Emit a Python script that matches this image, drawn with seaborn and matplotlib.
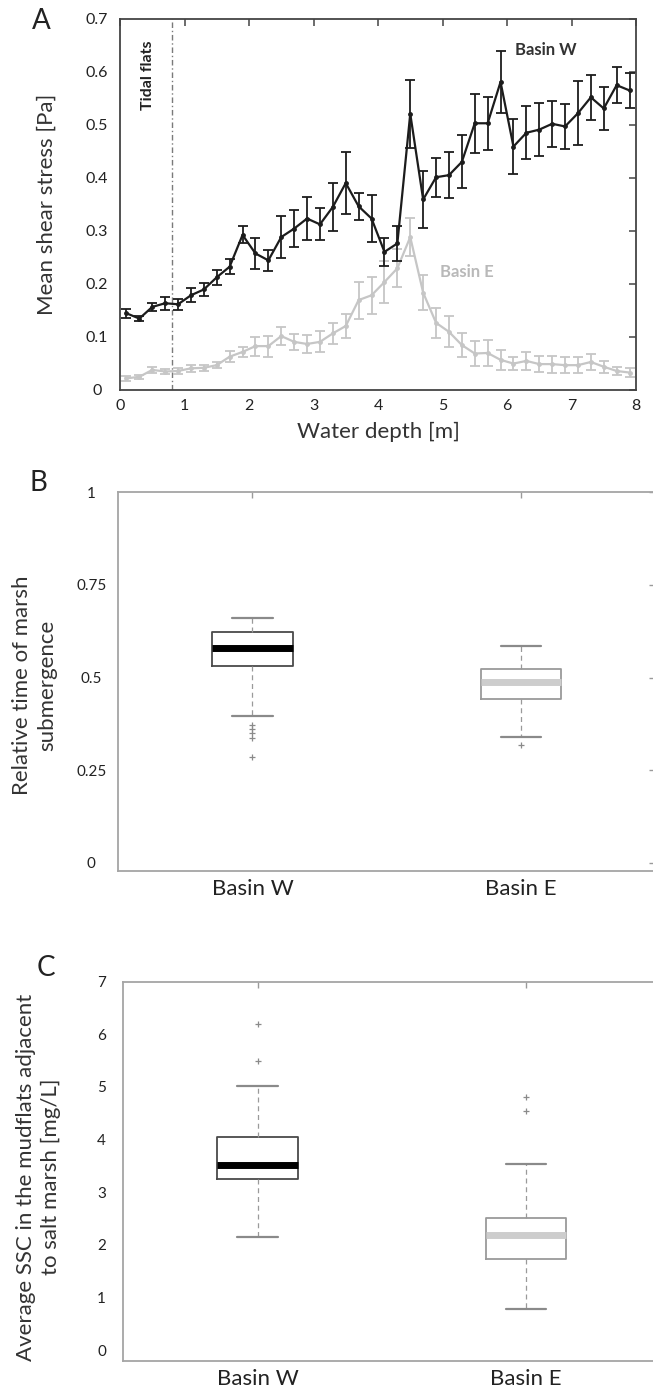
import matplotlib
matplotlib.use("Agg")
import matplotlib.pyplot as plt
import pandas as pd
import seaborn as sns

# ---- Panel A: mean bed shear stress vs water depth ----
depth = [0.1, 0.3, 0.5, 0.7, 0.9, 1.1, 1.3, 1.5, 1.7, 1.9,
         2.1, 2.3, 2.5, 2.7, 2.9, 3.1, 3.3, 3.5, 3.7, 3.9,
         4.1, 4.3, 4.5, 4.7, 4.9, 5.1, 5.3, 5.5, 5.7, 5.9,
         6.1, 6.3, 6.5, 6.7, 6.9, 7.1, 7.3, 7.5, 7.7, 7.9]
stress_w = [0.144, 0.134, 0.156, 0.163, 0.161, 0.178, 0.189, 0.212, 0.232, 0.292,
            0.257, 0.244, 0.288, 0.304, 0.323, 0.312, 0.345, 0.390, 0.346, 0.323,
            0.260, 0.276, 0.521, 0.359, 0.401, 0.405, 0.430, 0.503, 0.503, 0.581,
            0.459, 0.485, 0.491, 0.502, 0.497, 0.522, 0.552, 0.531, 0.575, 0.565]
stress_w_err = [0.008, 0.005, 0.008, 0.012, 0.010, 0.013, 0.013, 0.014, 0.014, 0.016,
                0.030, 0.020, 0.040, 0.035, 0.040, 0.030, 0.045, 0.058, 0.025, 0.045,
                0.027, 0.033, 0.064, 0.054, 0.037, 0.044, 0.050, 0.056, 0.050, 0.058,
                0.052, 0.050, 0.050, 0.044, 0.042, 0.060, 0.042, 0.040, 0.034, 0.033]
stress_e = [0.021, 0.024, 0.037, 0.034, 0.035, 0.040, 0.041, 0.046, 0.062, 0.071,
            0.082, 0.082, 0.101, 0.090, 0.086, 0.090, 0.106, 0.120, 0.169, 0.178,
            0.203, 0.229, 0.288, 0.183, 0.126, 0.109, 0.084, 0.068, 0.069, 0.056,
            0.049, 0.054, 0.048, 0.048, 0.046, 0.046, 0.052, 0.043, 0.035, 0.032]
stress_e_err = [0.005, 0.004, 0.005, 0.005, 0.005, 0.006, 0.006, 0.006, 0.010, 0.010,
                0.018, 0.020, 0.017, 0.015, 0.017, 0.020, 0.020, 0.022, 0.035, 0.035,
                0.040, 0.036, 0.036, 0.033, 0.028, 0.029, 0.022, 0.023, 0.024, 0.019,
                0.013, 0.017, 0.015, 0.016, 0.015, 0.015, 0.015, 0.011, 0.008, 0.008]
tidal_flats_limit = 0.81
depth_ticks = [0, 1, 2, 3, 4, 5, 6, 7, 8]
stress_ticks = [0, 0.1, 0.2, 0.3, 0.4, 0.5, 0.6, 0.7]
stress_tick_labels = ["0", "0.1", "0.2", "0.3", "0.4", "0.5", "0.6", "0.7"]

# ---- Panel B/C: box plot summaries per basin ----
basins = ["Basin W", "Basin E"]
sub_whislo = [0.396, 0.340]
sub_q1 = [0.530, 0.442]
sub_med = [0.581, 0.487]
sub_q3 = [0.622, 0.522]
sub_whishi = [0.660, 0.586]
sub_fliers = [[0.372, 0.360, 0.350, 0.336, 0.286], [0.318]]
sub_ticks = [0, 0.25, 0.5, 0.75, 1]
sub_tick_labels = ["0", "0.25", "0.5", "0.75", "1"]

ssc_whislo = [2.14, 0.79]
ssc_q1 = [3.25, 1.74]
ssc_med = [3.52, 2.19]
ssc_q3 = [4.05, 2.51]
ssc_whishi = [5.01, 3.54]
ssc_fliers = [[6.20, 5.50], [4.80, 4.55]]
ssc_ticks = [0, 1, 2, 3, 4, 5, 6, 7]

DARK = "#1c1c1c"
LIGHT = "#c6c6c6"
TEXT = "#222222"
LABEL = "#333333"

sns.set_style("white")
plt.rcParams["font.family"] = ["Lato", "DejaVu Sans"]

W, H = 653, 1395
fig = plt.figure(figsize=(W / 100, H / 100), dpi=100)


def px_axes(left, top, right, bottom):
    return fig.add_axes([left / W, 1 - bottom / H, (right - left) / W, (bottom - top) / H])


def center_ylabels(ax):
    for lab in ax.get_yticklabels():
        lab.set_horizontalalignment("center")


# ================= Panel A =================
axA = px_axes(120, 19, 636, 389.5)
df = pd.DataFrame({
    "depth": depth * 2,
    "stress": stress_w + stress_e,
    "basin": ["Basin W"] * len(depth) + ["Basin E"] * len(depth),
})
sns.lineplot(data=df, x="depth", y="stress", hue="basin",
             palette={"Basin W": DARK, "Basin E": LIGHT},
             hue_order=["Basin E", "Basin W"],
             marker="o", markersize=3.5, markeredgewidth=0, linewidth=1.6,
             legend=False, ax=axA)
axA.errorbar(depth, stress_e, yerr=stress_e_err, fmt="none", ecolor=LIGHT,
             elinewidth=1.3, capsize=3.5, capthick=1.3, zorder=1)
axA.errorbar(depth, stress_w, yerr=stress_w_err, fmt="none", ecolor=DARK,
             elinewidth=1.3, capsize=3.5, capthick=1.3, zorder=3)
axA.axvline(tidal_flats_limit, color="#7a7a7a", lw=1.0, ls=(0, (4, 2, 1, 2)), zorder=0)
axA.text(0.43, 0.593, "Tidal flats", rotation=90, ha="center", va="center",
         fontsize=11.5, fontweight="bold", color=TEXT)
axA.text(6.12, 0.642, "Basin W", ha="left", va="center", fontsize=12,
         fontweight="bold", color="#333333")
axA.text(4.96, 0.222, "Basin E", ha="left", va="center", fontsize=12,
         fontweight="bold", color="#b9b9b9")

axA.set_xlim(0, 8)
axA.set_ylim(0, 0.7)
axA.set_xticks(depth_ticks)
axA.set_xticklabels([str(t) for t in depth_ticks])
axA.set_yticks(stress_ticks)
axA.set_yticklabels(stress_tick_labels)
axA.tick_params(direction="in", length=5, width=1.1, color="#444444",
                top=True, right=True, labelsize=11.5, labelcolor=TEXT)
axA.tick_params(axis="x", pad=7)
axA.tick_params(axis="y", pad=16.5)
center_ylabels(axA)
for s in axA.spines.values():
    s.set_color("#444444")
    s.set_linewidth(1.3)
axA.set_xlabel("Water depth [m]", fontsize=16, color=LABEL, labelpad=6)
axA.set_ylabel("Mean shear stress [Pa]", fontsize=16, color=LABEL, va="center")
axA.yaxis.set_label_coords(-0.143, 0.5)


# ================= Box panels =================
def draw_boxes(ax, whislo, q1, med, q3, whishi, fliers, ypad):
    edge = ["#4a4a4a", "#9a9a9a"]
    mid = ["#000000", "#cdcdcd"]
    for i in range(2):
        st = [dict(whislo=whislo[i], q1=q1[i], med=med[i], q3=q3[i],
                   whishi=whishi[i], fliers=fliers[i], label=basins[i])]
        ax.bxp(st, positions=[i], widths=0.3, capwidths=0.15, showfliers=True,
               boxprops=dict(color=edge[i], linewidth=1.3),
               medianprops=dict(color=mid[i], linewidth=5, solid_capstyle="butt"),
               whiskerprops=dict(color="#9a9a9a", linewidth=0.9, linestyle=(0, (4, 3))),
               capprops=dict(color="#8a8a8a", linewidth=1.6),
               flierprops=dict(marker="+", markersize=4, markeredgecolor="#8a8a8a",
                               markeredgewidth=0.9))
    ax.set_xlim(-0.5, 1.5)
    ax.set_xticks([0, 1])
    ax.set_xticklabels(basins)
    ax.tick_params(direction="in", length=4, width=1.0, color="#9a9a9a",
                   top=True, right=True, labelcolor=TEXT)
    ax.tick_params(axis="x", labelsize=16, pad=6)
    ax.tick_params(axis="y", labelsize=11, pad=ypad)
    for s in ax.spines.values():
        s.set_color("#a5a5a5")
        s.set_linewidth(1.3)


axB = px_axes(118.3, 492.3, 655, 870.7)
draw_boxes(axB, sub_whislo, sub_q1, sub_med, sub_q3, sub_whishi, sub_fliers, ypad=19.5)
axB.set_ylim(-0.021, 1.0)
axB.set_yticks(sub_ticks)
axB.set_yticklabels(sub_tick_labels)
center_ylabels(axB)
axB.set_ylabel("Relative time of marsh\nsubmergence", fontsize=16, color=LABEL,
               va="center", linespacing=1.3)
axB.yaxis.set_label_coords(-0.156, 0.49)

axC = px_axes(123.3, 981.5, 660.3, 1360.7)
draw_boxes(axC, ssc_whislo, ssc_q1, ssc_med, ssc_q3, ssc_whishi, ssc_fliers, ypad=15.7)
axC.set_ylim(-0.2, 7.0)
axC.set_yticks(ssc_ticks)
axC.set_yticklabels([str(t) for t in ssc_ticks])
center_ylabels(axC)
axC.set_ylabel("Average SSC in the mudflats adjacent\nto salt marsh [mg/L]", fontsize=16,
               color=LABEL, va="center", linespacing=1.3)
axC.yaxis.set_label_coords(-0.158, 0.484)

# Panel letters
for letter, x, y in [("A", 41, 21), ("B", 38, 483), ("C", 46, 968)]:
    fig.text(x / W, 1 - y / H, letter, ha="center", va="center", fontsize=20, color=TEXT)

fig.savefig("out.png", dpi=100)
